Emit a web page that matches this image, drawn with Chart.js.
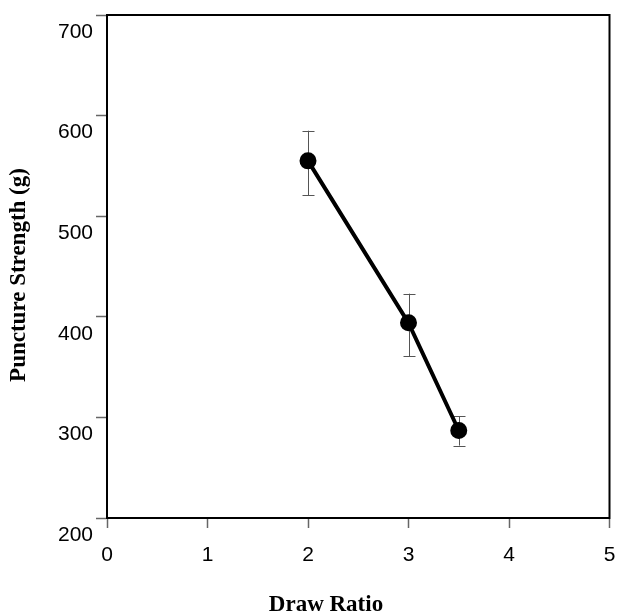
<!DOCTYPE html>
<html>
<head>
<meta charset="utf-8">
<script src="https://cdn.jsdelivr.net/npm/chart.js@4/dist/chart.umd.min.js"></script>
<style>
  html, body { margin: 0; padding: 0; background: #fff; }
  #wrap { width: 620px; height: 613px; }
</style>
</head>
<body>
<div id="wrap"><canvas id="c" width="620" height="613"></canvas></div>
<script>
// Draw ratio vs. puncture strength, with standard-deviation bars
const drawRatio = [2, 3, 3.5];
const punctureStrength = [555, 394, 287];
const errUpper = [585, 423, 301];
const errLower = [521, 361, 272];

const xTicks = [0, 1, 2, 3, 4, 5];
const yTicks = [200, 300, 400, 500, 600, 700];

const xTitle = 'Draw Ratio';
const yTitle = 'Puncture Strength (g)';

const points = drawRatio.map((x, i) => ({ x: x, y: punctureStrength[i] }));

// Error bars drawn beneath the markers
const errorBars = {
  id: 'errorBars',
  beforeDatasetsDraw(chart) {
    const { ctx, scales: { x, y } } = chart;
    ctx.save();
    ctx.strokeStyle = '#555';
    ctx.lineWidth = 1;
    const cap = 6;
    drawRatio.forEach((v, i) => {
      const px = Math.round(x.getPixelForValue(v)) + 0.5;
      const top = y.getPixelForValue(errUpper[i]);
      const bot = y.getPixelForValue(errLower[i]);
      ctx.beginPath();
      ctx.moveTo(px, top); ctx.lineTo(px, bot);
      ctx.moveTo(px - cap, Math.round(top) + 0.5); ctx.lineTo(px + cap, Math.round(top) + 0.5);
      ctx.moveTo(px - cap, Math.round(bot) + 0.5); ctx.lineTo(px + cap, Math.round(bot) + 0.5);
      ctx.stroke();
    });
    ctx.restore();
  }
};

// Plot frame and axis titles
const frame = {
  id: 'frame',
  afterDraw(chart) {
    const { ctx, chartArea: a } = chart;
    ctx.save();
    ctx.strokeStyle = '#000';
    ctx.lineWidth = 2;
    ctx.strokeRect(a.left, a.top, a.right - a.left, a.bottom - a.top);
    ctx.fillStyle = '#000';
    ctx.font = 'bold 23px "Liberation Serif", "Times New Roman", serif';
    ctx.textAlign = 'center';
    ctx.textBaseline = 'middle';
    ctx.fillText(xTitle, 326, 605);
    ctx.translate(19, 275);
    ctx.rotate(-Math.PI / 2);
    ctx.fillText(yTitle, 0, 0);
    ctx.restore();
  }
};

new Chart(document.getElementById('c'), {
  type: 'scatter',
  data: {
    datasets: [{
      data: points,
      showLine: true,
      borderColor: '#000',
      borderWidth: 4,
      backgroundColor: '#000',
      pointBackgroundColor: '#000',
      pointBorderColor: '#000',
      pointRadius: 6.5,
      pointHoverRadius: 6.5
    }]
  },
  options: {
    responsive: false,
    animation: false,
    devicePixelRatio: 1,
    layout: { padding: { left: 0, right: 10, top: 15, bottom: 0 } },
    plugins: { legend: { display: false }, tooltip: { enabled: false } },
    scales: {
      x: {
        type: 'linear',
        min: 0, max: 5,
        afterBuildTicks(s) { s.ticks = xTicks.map(v => ({ value: v })); },
        afterFit(s) { s.height = 95; s.paddingLeft = 0; s.paddingRight = 0; },
        grid: { drawOnChartArea: false, drawTicks: true, tickLength: 10, color: '#666', tickWidth: 1.5 },
        border: { color: '#000', width: 2 },
        ticks: {
          color: '#000',
          padding: 15,
          maxRotation: 0,
          font: { family: '"Liberation Sans", Arial, sans-serif', size: 21 }
        }
      },
      y: {
        type: 'linear',
        min: 200, max: 700,
        afterBuildTicks(s) { s.ticks = yTicks.map(v => ({ value: v })); },
        afterFit(s) { s.width = 107; s.paddingTop = 0; s.paddingBottom = 0; },
        grid: { drawOnChartArea: false, drawTicks: true, tickLength: 11, color: '#666', tickWidth: 1.5 },
        border: { color: '#000', width: 2 },
        ticks: {
          color: '#000',
          padding: 3,
          labelOffset: 17,
          font: { family: '"Liberation Sans", Arial, sans-serif', size: 21 }
        }
      }
    }
  },
  plugins: [errorBars, frame]
});
</script>
</body>
</html>
